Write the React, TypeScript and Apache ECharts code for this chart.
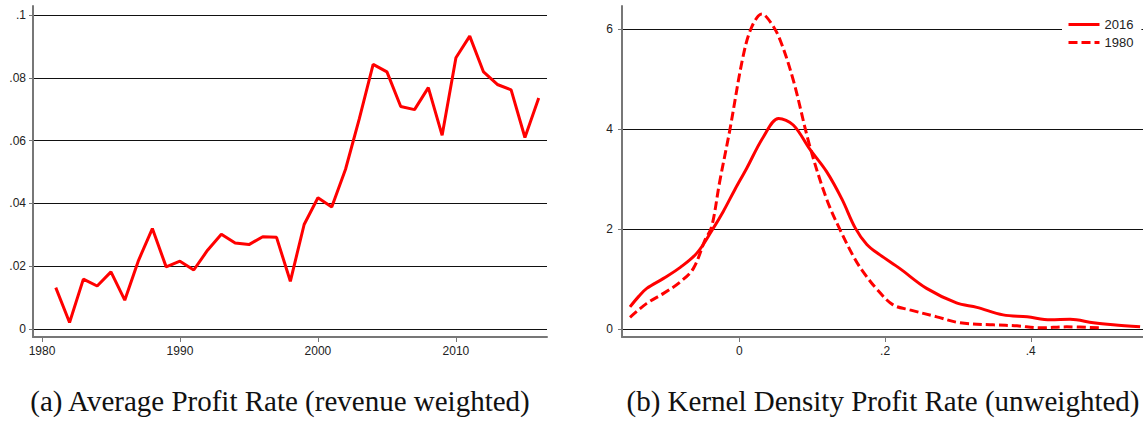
import React, { useEffect, useRef } from "react";
import * as echarts from "echarts";

const years = [
  1981, 1982, 1983, 1984, 1985, 1986, 1987, 1988, 1989, 1990, 1991, 1992,
  1993, 1994, 1995, 1996, 1997, 1998, 1999, 2000, 2001, 2002, 2003, 2004,
  2005, 2006, 2007, 2008, 2009, 2010, 2011, 2012, 2013, 2014, 2015, 2016,
];
const avgProfitRate = [
  0.0132, 0.0021, 0.0159, 0.0137, 0.0182, 0.0092, 0.0219, 0.032, 0.0198,
  0.0216, 0.0188, 0.0251, 0.0302, 0.0274, 0.0269, 0.0294, 0.0292, 0.0152,
  0.0333, 0.0418, 0.0389, 0.0509, 0.0670, 0.0843, 0.0819, 0.0709, 0.0699,
  0.0769, 0.0617, 0.0864, 0.0933, 0.0819, 0.0779, 0.0762, 0.0610, 0.0736,
];
const leftXTicks = [1980, 1990, 2000, 2010];
const leftYTicks = [0, 0.02, 0.04, 0.06, 0.08, 0.1];

const density2016: [number, number][] = [
  [-0.15, 0.45], [-0.138, 0.66], [-0.127, 0.82], [-0.104, 1.02], [-0.081, 1.24],
  [-0.058, 1.53], [-0.038, 1.97], [-0.022, 2.36], [-0.006, 2.8], [0.01, 3.22],
  [0.033, 3.85], [0.054, 4.22], [0.074, 4.09], [0.097, 3.6], [0.12, 3.15],
  [0.141, 2.6], [0.159, 2.03], [0.175, 1.7], [0.193, 1.49], [0.22, 1.22],
  [0.257, 0.82], [0.298, 0.53], [0.326, 0.44], [0.362, 0.29], [0.395, 0.25],
  [0.427, 0.19], [0.454, 0.2], [0.486, 0.13], [0.513, 0.09], [0.55, 0.05],
];
const density1980: [number, number][] = [
  [-0.15, 0.24], [-0.127, 0.52], [-0.104, 0.72], [-0.081, 0.95], [-0.063, 1.22],
  [-0.047, 1.79], [-0.038, 2.05], [-0.027, 2.95], [-0.013, 3.99], [0.005, 5.45],
  [0.017, 6.05], [0.031, 6.31], [0.044, 6.12], [0.056, 5.79], [0.074, 4.99],
  [0.097, 3.65], [0.12, 2.6], [0.138, 2.0], [0.157, 1.45], [0.17, 1.15],
  [0.189, 0.8], [0.211, 0.49], [0.234, 0.39], [0.271, 0.25], [0.303, 0.13],
  [0.349, 0.09], [0.381, 0.07], [0.413, 0.03], [0.449, 0.05], [0.495, 0.03],
];
const rightXTicks = [0, 0.2, 0.4];
const rightYTicks = [0, 2, 4, 6];
const legendNames = ["2016", "1980"];
const captions = [
  "(a) Average Profit Rate (revenue weighted)",
  "(b) Kernel Density Profit Rate (unweighted)",
];

const fmtDec = (v: number) => {
  if (v === 0) return "0";
  const s = String(+v.toFixed(4));
  return s.replace(/^0\./, ".").replace(/^-0\./, "-.");
};

const AXIS_COLOR = "#777";
const TEXT_COLOR = "#222";
const SANS = "Liberation Sans, Arial, sans-serif";
const SERIF = "Liberation Serif, serif";

function axisX(grid: number, min: number, max: number, ticks: number[], fmt?: (v: number) => string) {
  return {
    gridIndex: grid,
    type: "value",
    min,
    max,
    axisLine: { show: true, onZero: false, lineStyle: { color: AXIS_COLOR, width: 2 } },
    axisTick: { show: true, length: 5, customValues: ticks, lineStyle: { color: AXIS_COLOR, width: 1 } },
    axisLabel: {
      show: true,
      customValues: ticks,
      margin: 8,
      fontSize: 12,
      color: TEXT_COLOR,
      fontFamily: SANS,
      formatter: fmt ? (v: number) => fmt(v) : (v: number) => String(v),
    },
    splitLine: { show: false },
  };
}

function axisY(grid: number, min: number, max: number, ticks: number[], fmt: (v: number) => string, margin: number) {
  return {
    gridIndex: grid,
    type: "value",
    min,
    max,
    axisLine: { show: true, onZero: false, lineStyle: { color: AXIS_COLOR, width: 2 } },
    axisTick: { show: true, length: 4, customValues: ticks, lineStyle: { color: AXIS_COLOR, width: 1 } },
    axisLabel: {
      show: true,
      customValues: ticks,
      margin,
      fontSize: 12,
      color: TEXT_COLOR,
      fontFamily: SANS,
      formatter: (v: number) => fmt(v),
    },
    splitLine: { show: true, lineStyle: { color: "#111", width: 1 } },
  };
}

export default function App() {
  const ref = useRef<HTMLDivElement>(null);
  useEffect(() => {
    if (!ref.current) return;
    const chart = echarts.init(ref.current, undefined, { renderer: "svg" });
    chart.setOption({
      animation: false,
      backgroundColor: "#fff",
      grid: [
        { left: 33, right: 596, top: 6, bottom: 87 },
        { left: 622, right: 0, top: 6, bottom: 87 },
      ],
      xAxis: [
        axisX(0, 1979.35, 2016.6, leftXTicks),
        axisX(1, -0.161, 0.554, rightXTicks, fmtDec),
      ],
      yAxis: [
        axisY(0, -0.00254, 0.1029, leftYTicks, fmtDec, 7),
        axisY(1, -0.153, 6.47, rightYTicks, (v) => String(v), 9),
      ],
      legend: {
        data: legendNames,
        orient: "vertical",
        left: 1062,
        top: 13,
        itemWidth: 31,
        itemHeight: 14,
        itemGap: 5,
        padding: [5, 8, 5, 5],
        backgroundColor: "#fff",
        itemStyle: { opacity: 0 },
        lineStyle: { width: 3 },
        textStyle: { fontSize: 13, color: TEXT_COLOR, fontFamily: SANS },
      },
      series: [
        {
          type: "line",
          xAxisIndex: 0,
          yAxisIndex: 0,
          data: years.map((y, i) => [y, avgProfitRate[i]]),
          symbol: "none",
          color: "#ff0000",
          lineStyle: { color: "#ff0000", width: 3 },
        },
        {
          name: legendNames[0],
          type: "line",
          xAxisIndex: 1,
          yAxisIndex: 1,
          data: density2016,
          smooth: 0.35,
          symbol: "none",
          color: "#ff0000",
          lineStyle: { color: "#ff0000", width: 3 },
        },
        {
          name: legendNames[1],
          type: "line",
          xAxisIndex: 1,
          yAxisIndex: 1,
          data: density1980,
          smooth: 0.35,
          symbol: "none",
          color: "#ff0000",
          lineStyle: { color: "#ff0000", width: 3, type: [9, 4] },
        },
      ],
      graphic: [
        {
          type: "text",
          x: 280,
          y: 401,
          style: {
            text: captions[0],
            fontSize: 29,
            fontFamily: SERIF,
            fill: "#111",
            align: "center",
            verticalAlign: "middle",
          },
        },
        {
          type: "text",
          x: 883,
          y: 401,
          style: {
            text: captions[1],
            fontSize: 29,
            fontFamily: SERIF,
            fill: "#111",
            align: "center",
            verticalAlign: "middle",
          },
        },
      ],
    });
    return () => chart.dispose();
  }, []);
  return (
    <div
      ref={ref}
      style={{ position: "fixed", left: 0, top: 0, width: 1143, height: 424, background: "#fff" }}
    />
  );
}
